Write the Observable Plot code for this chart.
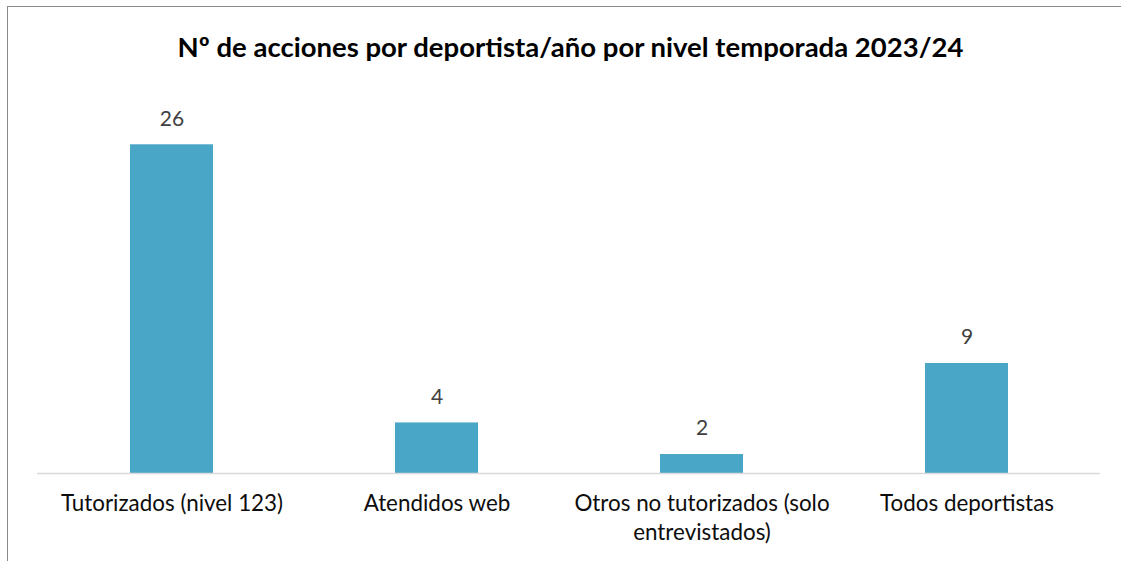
<!DOCTYPE html>
<html>
<head>
<meta charset="utf-8">
<script src="https://cdn.jsdelivr.net/npm/d3@7"></script>
<script src="https://cdn.jsdelivr.net/npm/@observablehq/plot@0.6"></script>
<style>
  html, body { margin: 0; padding: 0; background: #fff; }
  #wrap { position: relative; width: 1121px; height: 561px; overflow: hidden; background: #fff; }
  #frame { position: absolute; left: 7px; top: 6px; width: 1200px; height: 600px;
           border-left: 1.5px solid #8a8a8a; border-top: 1.5px solid #8a8a8a; box-sizing: border-box; }
  #title { position: absolute; left: 0; width: 1141px; top: 29px; text-align: center;
           font-family: Lato, sans-serif; font-weight: bold; font-size: 27.5px; color: #000; line-height: 36px; }
  #chart { position: absolute; left: 0; top: 0; }
</style>
</head>
<body>
<div id="wrap">
  <div id="frame"></div>
  <div id="chart"></div>
  <div id="title">Nº de acciones por deportista/año por nivel temporada 2023/24</div>
</div>
<script>
const categories = ["Tutorizados (nivel 123)", "Atendidos web", "Otros no tutorizados (solo entrevistados)", "Todos deportistas"];
const tickLabels = ["Tutorizados (nivel 123)", "Atendidos web", "Otros no tutorizados (solo\nentrevistados)", "Todos deportistas"];
const values = [26, 4, 1.5, 8.7];

const data = categories.map((c, i) => ({category: c, value: values[i], label: tickLabels[i]}));

const chart = Plot.plot({
  width: 1121,
  height: 561,
  marginLeft: 37,
  marginRight: 21,
  marginTop: 119,
  marginBottom: 88,
  style: {fontFamily: "Lato, sans-serif", background: "transparent"},
  x: {domain: categories, paddingInner: 0.688, paddingOuter: 0.344, label: null},
  y: {domain: [0, 28], axis: null},
  marks: [
    Plot.barY(data, {x: "category", y: "value", fill: "#4aa6c6"}),
    Plot.ruleY([0], {stroke: "#d9d9d9", strokeWidth: 1.5}),
    Plot.text(data, {x: "category", y: "value", text: d => d3.format(".0f")(d.value),
      dy: -26, fontSize: 21, fill: "#404040"}),
    Plot.axisX({tickSize: 0, tickPadding: 17, fontSize: 22.4, lineHeight: 1.28,
      tickFormat: (d, i) => tickLabels[categories.indexOf(d)], fill: "#0d0d0d", label: null})
  ]
});
document.getElementById("chart").appendChild(chart);
</script>
</body>
</html>
